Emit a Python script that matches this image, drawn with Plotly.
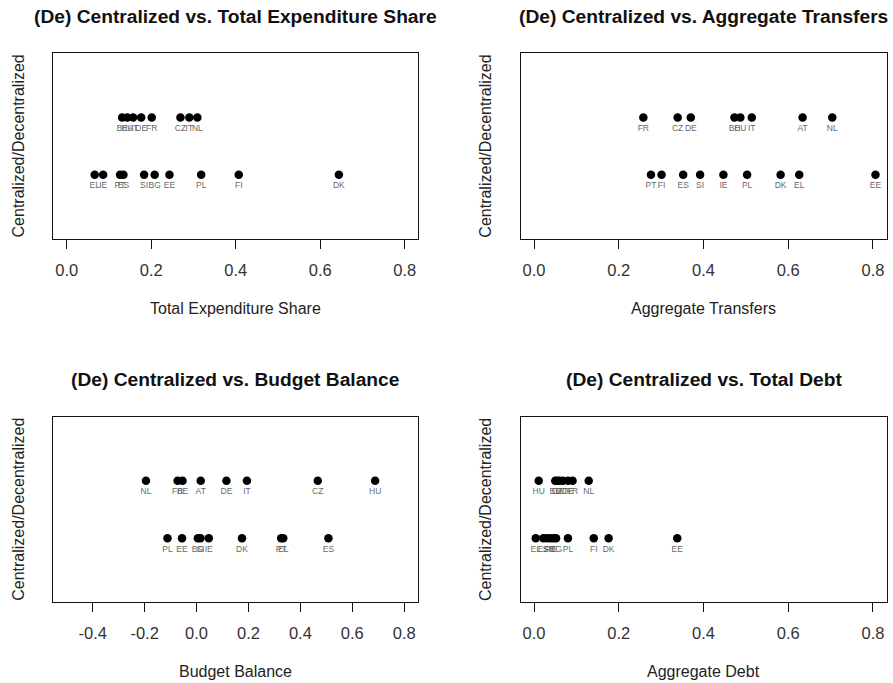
import plotly.graph_objects as go

# ---- data ---------------------------------------------------------------
# Row 2 = centralized countries, row 1 = decentralized countries
exp_c_names = ["BE", "HU", "AT", "DE", "FR", "CZ", "IT", "NL"]
exp_c_vals = [0.131, 0.143, 0.157, 0.176, 0.201, 0.269, 0.290, 0.309]
exp_d_names = ["EL", "IE", "PT", "ES", "SI", "BG", "EE", "PL", "FI", "DK"]
exp_d_vals = [0.066, 0.086, 0.126, 0.134, 0.183, 0.208, 0.243, 0.318, 0.407, 0.644]

tr_c_names = ["FR", "CZ", "DE", "BE", "HU", "IT", "AT", "NL"]
tr_c_vals = [0.258, 0.339, 0.370, 0.473, 0.487, 0.514, 0.634, 0.704]
tr_d_names = ["PT", "FI", "ES", "SI", "IE", "PL", "DK", "EL", "EE"]
tr_d_vals = [0.276, 0.301, 0.352, 0.392, 0.447, 0.503, 0.582, 0.626, 0.806]

bb_c_names = ["NL", "FR", "BE", "AT", "DE", "IT", "CZ", "HU"]
bb_c_vals = [-0.195, -0.073, -0.054, 0.016, 0.115, 0.194, 0.467, 0.688]
bb_d_names = ["PL", "EE", "BG", "SI", "IE", "DK", "PT", "EL", "ES"]
bb_d_vals = [-0.112, -0.056, 0.005, 0.015, 0.047, 0.175, 0.326, 0.334, 0.508]

debt_c_names = ["HU", "BE", "CZ", "IT", "AT", "DE", "FR", "NL"]
debt_c_vals = [0.011, 0.050, 0.055, 0.060, 0.068, 0.080, 0.091, 0.129]
debt_d_names = ["EL", "ES", "SI", "PT", "IE", "BG", "PL", "FI", "DK", "EE"]
debt_d_vals = [0.004, 0.022, 0.030, 0.038, 0.045, 0.052, 0.080, 0.141, 0.176, 0.338]

titles = [
    "(De) Centralized vs. Total Expenditure Share",
    "(De) Centralized vs. Aggregate Transfers",
    "(De) Centralized vs. Budget Balance",
    "(De) Centralized vs. Total Debt",
]
x_titles = ["Total Expenditure Share", "Aggregate Transfers", "Budget Balance", "Aggregate Debt"]
y_title = "Centralized/Decentralized"

ticks_pos = [0.0, 0.2, 0.4, 0.6, 0.8]
ticks_bb = [-0.4, -0.2, 0.0, 0.2, 0.4, 0.6, 0.8]

# ---- layout geometry ----------------------------------------------------
W, H = 893, 683
FONT = "Liberation Sans, Arial, Helvetica, sans-serif"

panels = [
    dict(c=(exp_c_names, exp_c_vals), d=(exp_d_names, exp_d_vals),
         xlim=(0.0, 0.8), ticks=ticks_pos, box=(53.3, 418.3, 53.3, 239.0)),
    dict(c=(tr_c_names, tr_c_vals), d=(tr_d_names, tr_d_vals),
         xlim=(0.0, 0.8), ticks=ticks_pos, box=(520.5, 886.5, 53.3, 239.0)),
    dict(c=(bb_c_names, bb_c_vals), d=(bb_d_names, bb_d_vals),
         xlim=(-0.5, 0.8), ticks=ticks_bb, box=(53.3, 417.7, 416.7, 602.3)),
    dict(c=(debt_c_names, debt_c_vals), d=(debt_d_names, debt_d_vals),
         xlim=(0.0, 0.8), ticks=ticks_pos, box=(520.5, 886.5, 416.7, 602.3)),
]

fig = go.Figure()
annotations = []


def ext(lo, hi, f=0.04):
    span = hi - lo
    return [lo - f * span, hi + f * span]


for i, p in enumerate(panels, start=1):
    xa = "x" if i == 1 else f"x{i}"
    ya = "y" if i == 1 else f"y{i}"
    for (names, vals), row in ((p["c"], 2), (p["d"], 1)):
        fig.add_trace(go.Scatter(
            x=vals, y=[row] * len(vals), mode="markers",
            marker=dict(color="black", size=8.5, line=dict(width=0)),
            xaxis=xa, yaxis=ya, showlegend=False, hoverinfo="skip"))
        fig.add_trace(go.Scatter(
            x=vals, y=[row - 0.2] * len(vals), mode="text", text=names,
            textfont=dict(family=FONT, size=8.5, color="#000000"),
            textposition="middle center", opacity=0.62,
            xaxis=xa, yaxis=ya, showlegend=False, hoverinfo="skip"))

    l, r, t, b = p["box"]
    axis_common = dict(showline=True, mirror=True, linecolor="#111111", linewidth=1,
                       showgrid=False, zeroline=False)
    fig.update_layout(**{
        ("xaxis" if i == 1 else f"xaxis{i}"): dict(
            domain=[l / W, r / W], range=ext(*p["xlim"]), anchor=ya,
            tickvals=p["ticks"], ticktext=[f"{v:.1f}" for v in p["ticks"]],
            ticks="outside", ticklen=9, tickwidth=1, tickcolor="#111111",
            ticklabelstandoff=7,
            tickfont=dict(family=FONT, size=16.5, color="#333333"),
            **axis_common),
        ("yaxis" if i == 1 else f"yaxis{i}"): dict(
            domain=[1 - b / H, 1 - t / H], range=ext(0, 3), anchor=xa,
            showticklabels=False, ticks="", **axis_common),
    })

    cx = (l + r) / 2
    cy = (t + b) / 2
    annotations.append(dict(text=f"<b>{titles[i - 1]}</b>", x=cx / W, y=1 - (t - 37) / H,
                            xref="paper", yref="paper", showarrow=False,
                            xanchor="center", yanchor="middle",
                            font=dict(family=FONT, size=19.2, color="#111111")))
    annotations.append(dict(text=x_titles[i - 1], x=cx / W, y=1 - (b + 69) / H,
                            xref="paper", yref="paper", showarrow=False,
                            xanchor="center", yanchor="middle",
                            font=dict(family=FONT, size=16, color="#222222")))
    annotations.append(dict(text=y_title, x=(l - 35) / W, y=1 - cy / H,
                            xref="paper", yref="paper", showarrow=False, textangle=-90,
                            xanchor="center", yanchor="middle",
                            font=dict(family=FONT, size=16, color="#222222")))

fig.update_layout(width=W, height=H, margin=dict(l=0, r=0, t=0, b=0),
                  paper_bgcolor="white", plot_bgcolor="white",
                  annotations=annotations)

fig.write_html("out.html", config={"displayModeBar": False})
